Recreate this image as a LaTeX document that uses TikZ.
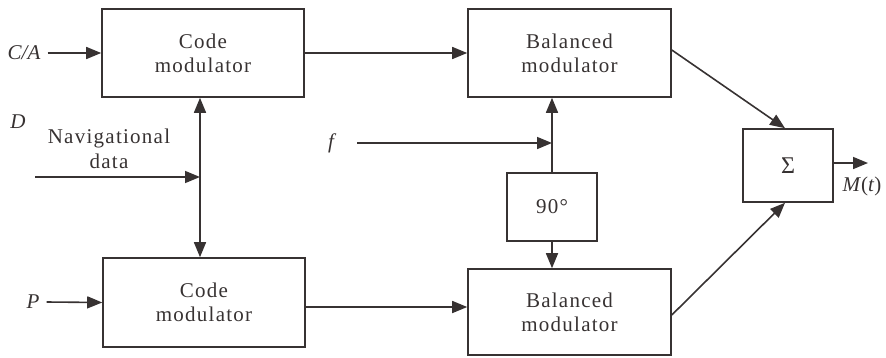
\documentclass[tikz,border=0pt]{standalone}
\usepackage{fontspec}
\setmainfont{Liberation Serif}
\newfontfamily\spaced[LetterSpace=6]{Liberation Serif}
\usetikzlibrary{arrows.meta}
\definecolor{ink}{RGB}{55,50,50}
\begin{document}
\begin{tikzpicture}[x=1pt,y=-1pt,
  box/.style={draw=ink, line width=1.6pt, inner sep=0pt, align=center,
    font=\spaced\fontsize{21}{24}\selectfont, text=ink},
  conn/.style={draw=ink, line width=1.6pt, -{Triangle[length=15pt,width=12pt]}},
  dconn/.style={draw=ink, line width=1.6pt, {Triangle[length=15pt,width=12pt]}-{Triangle[length=15pt,width=12pt]}},
  lbl/.style={inner sep=0pt, font=\fontsize{21}{24}\selectfont\itshape, text=ink},
  txt/.style={inner sep=0pt, align=center, font=\spaced\fontsize{21}{25}\selectfont, text=ink}]
\useasboundingbox (0,0) rectangle (886,357);

\node[box, minimum width=202pt, minimum height=88pt] (cm1) at (203,53) {Code\\modulator};
\node[box, minimum width=202pt, minimum height=89pt] (cm2) at (204,302.5) {Code\\modulator};
\node[box, minimum width=203pt, minimum height=88pt] (bm1) at (569.5,53) {Balanced\\modulator};
\node[box, minimum width=203pt, minimum height=86pt] (bm2) at (569.5,312) {Balanced\\modulator};
\node[box, minimum width=90pt, minimum height=68pt] (ph) at (552,207) {90°};
\node[box, minimum width=90pt, minimum height=73pt, font=\fontsize{24}{26}\selectfont] (sum) at (788,165.5) {Σ};

\node[lbl] (ca) at (24,53) {C/A};
\node[lbl] (d) at (18,122) {D};
\node[txt] (nav) at (109,149) {Navigational\\data};
\node[lbl] (p) at (33,302) {P};
\node[lbl] (f) at (331,143) {f};
\node[lbl, font=\fontsize{21}{24}\selectfont] (mt) at (862,186) {\textit{M}(\textit{t})};

\coordinate (navin) at (35,177);
\coordinate (fin) at (357,143);
\coordinate (out) at (868,163);

\draw[conn] ([xshift=7pt]ca.east) -- (cm1.west);
\draw[conn] ([xshift=7pt]p.east) -- (cm2.west);
\draw[dconn] ([xshift=-3pt]cm1.south) -- ([xshift=-3pt]cm1.south |- cm2.north);
\draw[conn] (navin) -- ([xshift=-3pt]cm1.south |- navin);
\draw[conn] (cm1.east) -- (bm1.west);
\draw[conn] ([yshift=-4.5pt]cm2.east) -- ([yshift=5pt]bm2.west);
\draw[conn] (fin) -- (ph.north |- fin);
\draw[conn] (ph.north) -- (bm1.south -| ph.north);
\draw[conn] (ph.south) -- (bm2.north -| ph.south);
\draw[conn] ([yshift=3pt]bm1.east) -- ([xshift=-3pt]sum.north);
\draw[conn] ([yshift=-3pt]bm2.east) -- ([xshift=-3pt]sum.south);
\draw[conn] ([yshift=2.5pt]sum.east) -- (out);
\end{tikzpicture}
\end{document}
